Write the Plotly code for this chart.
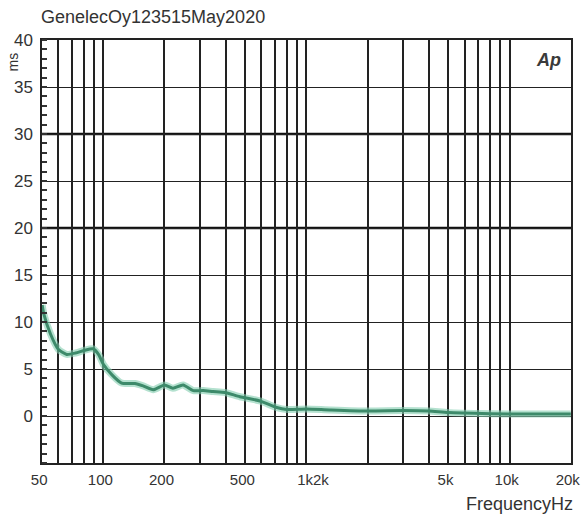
import numpy as np
import plotly.graph_objects as go

# ================= DATA ===================
FREQ_HZ = [50, 51, 55, 60, 66, 73, 81, 89, 95, 100, 110, 123, 143, 157, 176,
           200, 220, 247, 277, 310, 347, 397, 470, 590, 714, 800, 1000, 1300,
           2000, 3000, 4000, 5000, 8000, 12000, 20000]
GROUP_DELAY_MS = [11.8, 10.8, 8.7, 7.1, 6.55, 6.7, 7.0, 7.15, 6.5, 5.5, 4.4,
                  3.5, 3.45, 3.2, 2.8, 3.3, 2.95, 3.3, 2.7, 2.7, 2.6, 2.5,
                  2.05, 1.6, 0.9, 0.7, 0.75, 0.65, 0.53, 0.58, 0.53, 0.36,
                  0.25, 0.2, 0.2]

X_TICK_VALS = [50, 100, 200, 500, 1114, 5000, 10000, 20000]
X_TICK_TEXT = ["50", "100", "200", "500", "1k2k", "5k", "10k", "20k"]
X_GRID_VALS = [60, 70, 80, 90, 100, 200, 300, 400, 500, 600, 700, 800, 900,
               1000, 2000, 3000, 4000, 5000, 6000, 7000, 8000, 9000, 10000]
Y_TICK_VALS = [0, 5, 10, 15, 20, 25, 30, 35, 40]
Y_HEAVY_LINES = [20, 30]

TITLE = "GenelecOy123515May2020"
GRID = "#222222"
TEXT = "#333333"
FONT = "Liberation Sans, Arial, sans-serif"


# ===========================================
def build_figure():
    fig = go.Figure()

    # soft halo under the curve
    fig.add_trace(go.Scatter(
        x=FREQ_HZ, y=GROUP_DELAY_MS, mode="lines",
        line=dict(color="rgba(130,205,175,0.6)", width=7, shape="spline", smoothing=0.6),
        hoverinfo="skip", showlegend=False,
    ))
    fig.add_trace(go.Scatter(
        x=FREQ_HZ, y=GROUP_DELAY_MS, mode="lines",
        line=dict(color="#3d8a6a", width=3, shape="spline", smoothing=0.6),
        showlegend=False,
    ))

    for yv in Y_HEAVY_LINES:
        fig.add_shape(type="line", xref="paper", x0=0, x1=1, yref="y", y0=yv, y1=yv,
                      line=dict(color="#111111", width=2.6), layer="below")

    fig.update_layout(
        width=581, height=515,
        margin=dict(l=42, r=10, t=40, b=52),
        paper_bgcolor="white", plot_bgcolor="white",
        font=dict(family=FONT, size=16, color=TEXT),
    )

    fig.update_xaxes(
        type="log", automargin=False,
        range=[np.log10(49.9), np.log10(20050)],
        tickmode="array", tickvals=X_TICK_VALS, ticktext=X_TICK_TEXT,
        showgrid=False, ticks="", ticklabelstandoff=2, ticklabelshift=-3,
        ticklabeloverflow="allow",
        tickfont=dict(size=15, color=TEXT),
        showline=True, linecolor="#222222", linewidth=1.5, mirror=True,
        minor=dict(tickmode="array", tickvals=X_GRID_VALS, showgrid=True,
                   gridcolor=GRID, gridwidth=1.6, ticks=""),
        zeroline=False,
    )
    fig.update_yaxes(
        range=[-5, 40], automargin=False,
        tickmode="array", tickvals=Y_TICK_VALS,
        showgrid=True, gridcolor=GRID, gridwidth=1.3,
        ticks="", ticklabelstandoff=4,
        tickfont=dict(size=17, color=TEXT),
        showline=True, linecolor="#222222", linewidth=1.5, mirror=True,
        minor=dict(dtick=1, ticks="inside", ticklen=5, tickwidth=1.5,
                   tickcolor="#333333", showgrid=False),
        zeroline=False,
    )

    fig.add_annotation(text=TITLE, xref="paper", yref="paper", x=-0.006, y=1.055,
                       xanchor="left", yanchor="middle", showarrow=False,
                       font=dict(size=18, color=TEXT))
    fig.add_annotation(text="ms", xref="paper", yref="paper", x=-0.054, y=0.948,
                       xanchor="center", yanchor="middle", textangle=-90, showarrow=False,
                       font=dict(size=14, color=TEXT))
    fig.add_annotation(text="FrequencyHz", xref="paper", yref="paper", x=1.008, y=-0.097,
                       xanchor="right", yanchor="middle", showarrow=False,
                       font=dict(size=18, color=TEXT))
    fig.add_annotation(text="<b><i>Ap</i></b>", xref="paper", yref="paper", x=0.985, y=0.953,
                       xanchor="right", yanchor="middle", showarrow=False,
                       font=dict(size=18, color="#3a3a3a"))
    return fig


# ===========================================
def main():
    fig = build_figure()
    # drop the default body margin so the 581x515 figure fills the window
    fig.write_html("out.html", config={"displayModeBar": False},
                   post_script="document.body.style.margin = '0px';")


if __name__ == "__main__":
    main()
